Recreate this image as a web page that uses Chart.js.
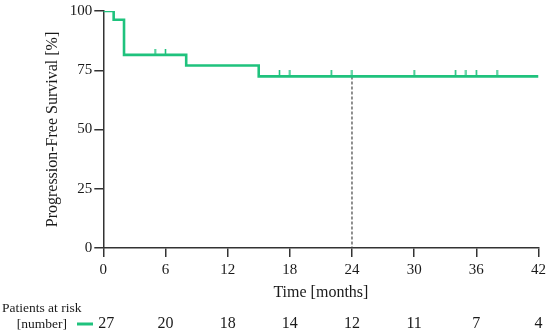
<!DOCTYPE html>
<html>
<head>
<meta charset="utf-8">
<script src="https://cdn.jsdelivr.net/npm/chart.js@4.4.1/dist/chart.umd.min.js"></script>
<style>
  html, body { margin:0; padding:0; background:#fff; }
  #wrap { width:550px; height:335px; position:relative; }
</style>
</head>
<body>
<div id="wrap"><canvas id="km"></canvas></div>
<script>
/* ======= Data ======= */
// Kaplan-Meier steps (months, % survival)
const kmTimes    = [0, 1, 2, 8, 15, 42];
const kmSurvival = [100, 96.3, 81.5, 77.0, 72.4, 72.4];

// censored patients (tick marks)
const censorTimes    = [5, 6, 17, 18, 22, 24, 30, 34, 35, 36, 38];
const censorSurvival = [81.5, 81.5, 72.4, 72.4, 72.4, 72.4, 72.4, 72.4, 72.4, 72.4, 72.4];

// median follow-up marker (dashed)
const markTime = 24;
const markSurvival = 72.4;

// patients at risk table
const riskTimes  = [0, 6, 12, 18, 24, 30, 36, 42];
const riskCounts = [27, 20, 18, 14, 12, 11, 7, 4];

/* ======= Style ======= */
const GREEN = '#1fc27d';
const AXIS  = '#333333';
const TEXT  = '#1a1a1a';
const FONT  = '"Liberation Serif", "Times New Roman", serif';

// small vertical tick used as censor mark (only the upper half is drawn)
const censorMark = document.createElement('canvas');
censorMark.width = 3; censorMark.height = 12;
(function(){
  const c = censorMark.getContext('2d');
  c.strokeStyle = GREEN; c.lineWidth = 1.6;
  c.beginPath(); c.moveTo(1.5, 0); c.lineTo(1.5, 6); c.stroke();
})();

/* ======= Risk table plugin ======= */
const riskTable = {
  id: 'riskTable',
  afterDraw(chart) {
    const ctx = chart.ctx;
    const x = chart.scales.x;
    const rowY = 324;
    ctx.save();
    ctx.fillStyle = TEXT;
    ctx.textBaseline = 'middle';
    ctx.font = '13.5px ' + FONT;
    ctx.textAlign = 'left';
    ctx.fillText('Patients at risk', 2, 308);
    ctx.textAlign = 'right';
    ctx.fillText('[number]', 67, rowY);
    // green legend dash
    ctx.strokeStyle = GREEN; ctx.lineWidth = 3;
    ctx.beginPath(); ctx.moveTo(77, rowY); ctx.lineTo(93, rowY); ctx.stroke();
    ctx.font = '16px ' + FONT;
    ctx.textAlign = 'center';
    riskTimes.forEach((t, i) => {
      const px = x.getPixelForValue(t) + (i === 0 ? 3 : 0);
      ctx.fillText(String(riskCounts[i]), px, rowY);
    });
    ctx.restore();
  }
};

/* ======= Chart ======= */
const kmData = kmTimes.map((t, i) => ({ x: t, y: kmSurvival[i] }));
const censorData = censorTimes.map((t, i) => ({ x: t, y: censorSurvival[i] }));
const markData = [{ x: markTime, y: markSurvival }, { x: markTime, y: 0 }];

new Chart(document.getElementById('km'), {
  type: 'line',
  data: {
    datasets: [
      { label: 'median', data: markData, borderColor: '#444', borderWidth: 1.2,
        borderDash: [3, 2], pointRadius: 0, order: 3 },
      { label: 'PFS', data: kmData, stepped: 'before', borderColor: GREEN, borderWidth: 2.6,
        pointRadius: 0, fill: false, order: 2 },
      { label: 'censored', data: censorData, showLine: false, pointStyle: censorMark,
        pointRadius: 3, order: 1 }
    ]
  },
  options: {
    responsive: true, maintainAspectRatio: false, animation: false,
    layout: { padding: { top: 10.5, right: 10, left: 0, bottom: 0 } },
    plugins: { legend: { display: false }, tooltip: { enabled: false } },
    scales: {
      x: {
        type: 'linear', min: 0, max: 42,
        ticks: { stepSize: 6, color: TEXT, padding: 4, maxRotation: 0,
                 font: { family: FONT, size: 15 } },
        grid: { drawOnChartArea: false, drawTicks: true, tickLength: 9, color: AXIS, lineWidth: 1.5 },
        border: { display: true, color: AXIS, width: 1.5 },
        title: { display: true, text: 'Time [months]', color: TEXT,
                 font: { family: FONT, size: 16 }, padding: { top: 0, bottom: 33 } },
        afterFit(scale) { scale.height = 87; }
      },
      y: {
        min: 0, max: 100,
        ticks: { stepSize: 25, color: TEXT, padding: 2, font: { family: FONT, size: 15 } },
        grid: { drawOnChartArea: false, drawTicks: true, tickLength: 9, color: AXIS, lineWidth: 1.5 },
        border: { display: true, color: AXIS, width: 1.5 },
        title: { display: true, text: 'Progression-Free Survival [%]', color: TEXT,
                 font: { family: FONT, size: 16 }, padding: { top: 43, bottom: 0 } },
        afterFit(scale) { scale.width = 103.3; }
      }
    }
  },
  plugins: [riskTable]
});
</script>
</body>
</html>
